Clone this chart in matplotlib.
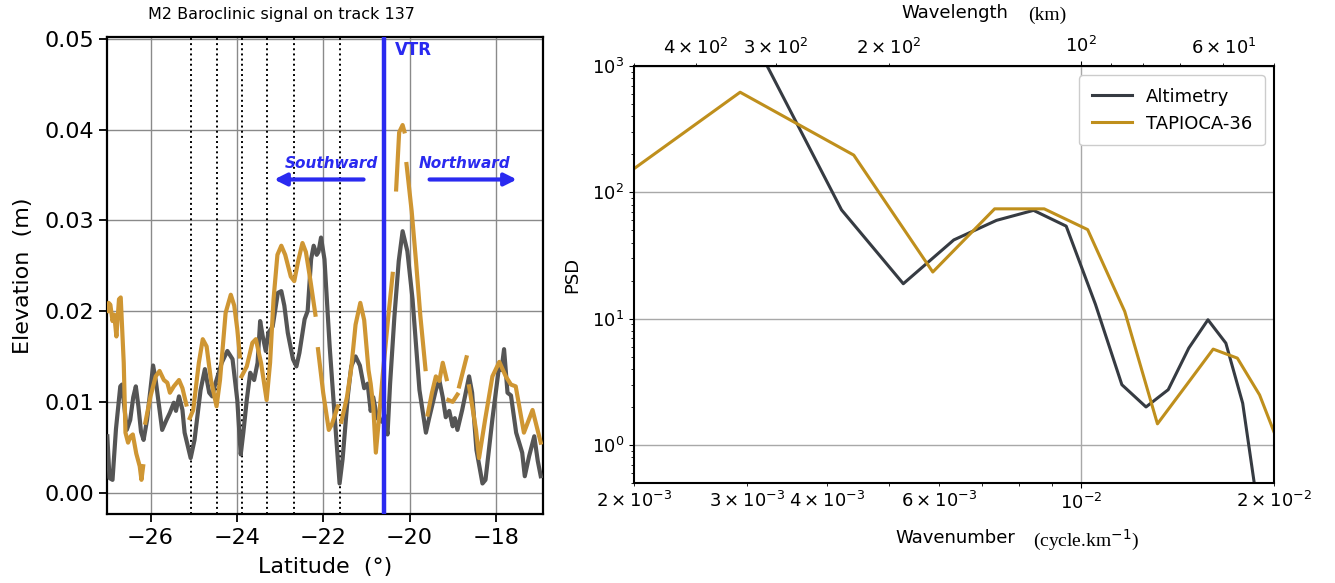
import matplotlib
matplotlib.use("Agg")
import matplotlib.pyplot as plt
import numpy as np

# ---- left panel: M2 baroclinic signal along track 137 ----
alti_lat = [-27.00, -26.95, -26.88, -26.80, -26.70, -26.66, -26.55, -26.47, -26.40, -26.34,
            -26.28, -26.22, -26.16, -26.08, -25.94, -25.88, -25.79, -25.73, -25.63, -25.55,
            -25.46, -25.41, -25.34, -25.26, -25.21, -25.07, -24.98, -24.84, -24.74, -24.64,
            -24.57, -24.51, -24.35, -24.22, -24.10, -23.99, -23.91, -23.85, -23.77, -23.69,
            -23.60, -23.52, -23.46, -23.40, -23.33, -23.27, -23.17, -23.05, -22.97, -22.90,
            -22.82, -22.70, -22.62, -22.55, -22.43, -22.36, -22.28, -22.22, -22.15, -22.11,
            -22.05, -21.97, -21.85, -21.74, -21.62, -21.55, -21.43, -21.35, -21.25, -21.15,
            -21.05, -20.97, -20.90, -20.84, -20.75, -20.64, -20.58, -20.51, -20.45, -20.35,
            -20.25, -20.16, -20.05, -19.93, -19.77, -19.62, -19.55, -19.39, -19.31, -19.23,
            -19.16, -19.08, -19.00, -18.95, -18.89, -18.78, -18.62, -18.55, -18.45, -18.31,
            -18.24, -18.08, -17.92, -17.87, -17.81, -17.73, -17.65, -17.53, -17.39, -17.33,
            -17.23, -17.11, -17.03, -16.96]
alti_elev = [0.0062, 0.0016, 0.0014, 0.0070, 0.0117, 0.0119, 0.0069, 0.0080, 0.0105, 0.0117,
             0.0095, 0.0067, 0.0058, 0.0080, 0.0140, 0.0124, 0.0091, 0.0069, 0.0080, 0.0088,
             0.0099, 0.0090, 0.0106, 0.0091, 0.0066, 0.0038, 0.0058, 0.0113, 0.0136, 0.0110,
             0.0106, 0.0118, 0.0143, 0.0156, 0.0147, 0.0102, 0.0042, 0.0066, 0.0102, 0.0132,
             0.0124, 0.0143, 0.0189, 0.0172, 0.0156, 0.0176, 0.0183, 0.0220, 0.0222, 0.0206,
             0.0176, 0.0147, 0.0139, 0.0154, 0.0191, 0.0200, 0.0257, 0.0272, 0.0262, 0.0265,
             0.0281, 0.0257, 0.0161, 0.0088, 0.0010, 0.0037, 0.0106, 0.0139, 0.0150, 0.0140,
             0.0115, 0.0120, 0.0090, 0.0105, 0.0082, 0.0078, 0.0085, 0.0064, 0.0120, 0.0194,
             0.0255, 0.0288, 0.0266, 0.0213, 0.0113, 0.0066, 0.0081, 0.0113, 0.0124, 0.0105,
             0.0083, 0.0090, 0.0073, 0.0082, 0.0069, 0.0091, 0.0128, 0.0110, 0.0047, 0.0010,
             0.0014, 0.0081, 0.0141, 0.0135, 0.0158, 0.0110, 0.0107, 0.0066, 0.0044, 0.0018,
             0.0040, 0.0062, 0.0035, 0.0018]

nan = np.nan
model_lat = [-27.00, -26.97, -26.93, -26.88, -26.84, -26.79, -26.73, -26.69, -26.62, -26.58,
             -26.52, -26.46, -26.41, -26.33, -26.25, -26.21, -26.17, nan,
             -26.12, -26.00, -25.88, -25.79, -25.69, -25.61, -25.55, -25.46, -25.34, -25.26,
             -25.17, nan,
             -25.09, -25.01, -24.88, -24.79, -24.70, -24.60, -24.47, -24.39, -24.26, -24.14,
             -24.06, -23.99, -23.93, nan,
             -23.89, -23.77, -23.64, -23.56, -23.44, -23.31, -23.23, -23.15, -23.06, -22.97,
             -22.88, -22.75, -22.67, -22.58, -22.48, -22.40, -22.30, -22.18, nan,
             -22.12, -22.00, -21.87, -21.80, -21.66, nan,
             -21.58, -21.45, -21.35, -21.25, -21.14, -21.05, -20.95, -20.90, -20.84, -20.78,
             -20.72, -20.62, -20.50, -20.39, nan,
             -20.31, -20.24, -20.16, -20.12, nan,
             -20.07, -19.95, -19.85, -19.75, -19.63, nan,
             -19.58, -19.48, -19.39, -19.31, -19.23, -19.14, nan,
             -19.10, -19.00, -18.89, nan,
             -18.85, -18.68, nan,
             -18.62, -18.46, -18.39, -18.25, -18.08, -17.92, -17.77, -17.65, -17.54, -17.35,
             -17.15, -16.96]
model_elev = [0.0200, 0.0209, 0.0207, 0.0189, 0.0196, 0.0172, 0.0213, 0.0215, 0.0143, 0.0066,
              0.0055, 0.0062, 0.0064, 0.0043, 0.0029, 0.0014, 0.0029, nan,
              0.0077, 0.0106, 0.0128, 0.0134, 0.0124, 0.0121, 0.0110, 0.0117, 0.0124, 0.0115,
              0.0097, nan,
              0.0082, 0.0091, 0.0143, 0.0169, 0.0161, 0.0124, 0.0095, 0.0124, 0.0198, 0.0218,
              0.0206, 0.0180, 0.0150, nan,
              0.0128, 0.0139, 0.0165, 0.0169, 0.0143, 0.0102, 0.0143, 0.0213, 0.0262, 0.0272,
              0.0262, 0.0238, 0.0233, 0.0255, 0.0275, 0.0265, 0.0235, 0.0196, nan,
              0.0158, 0.0110, 0.0069, 0.0075, 0.0095, nan,
              0.0078, 0.0105, 0.0137, 0.0185, 0.0209, 0.0190, 0.0135, 0.0120, 0.0095, 0.0044,
              0.0075, 0.0130, 0.0190, 0.0241, nan,
              0.0334, 0.0397, 0.0405, 0.0398, nan,
              0.0362, 0.0310, 0.0255, 0.0195, 0.0136, nan,
              0.0086, 0.0110, 0.0128, 0.0123, 0.0143, 0.0125, nan,
              0.0102, 0.0100, 0.0108, nan,
              0.0117, 0.0149, nan,
              0.0117, 0.0069, 0.0038, 0.0080, 0.0128, 0.0144, 0.0128, 0.0119, 0.0117, 0.0066,
              0.0091, 0.0055]

section_lat = [-25.07, -24.47, -23.88, -23.30, -22.68, -21.61]
vtr_lat = -20.58

# ---- right panel: spectra ----
alti_k = [0.00317, 0.00422, 0.00527, 0.00632, 0.00737, 0.00842, 0.00947, 0.01052, 0.01157,
          0.01262, 0.01367, 0.01472, 0.01577, 0.01682, 0.01787, 0.01892]
alti_psd = [1200, 72.6, 18.9, 42, 60, 72, 54, 13, 3.0, 2.0, 2.74, 5.85, 9.8, 6.4, 2.14, 0.29]
model_k = [0.00147, 0.00293, 0.00441, 0.00586, 0.00732, 0.00875, 0.01023, 0.01169, 0.01315,
           0.01461, 0.01607, 0.01753, 0.01899, 0.02045]
model_psd = [50, 620, 197, 23.4, 74, 74, 50.7, 11.4, 1.47, 3.0, 5.74, 4.87, 2.49, 0.95]

# tick positions / labels of the log axes
k_major = [0.01]
k_major_labels = ['$10^{-2}$']
k_minor = [0.002, 0.003, 0.004, 0.005, 0.006, 0.007, 0.008, 0.009, 0.02]
k_minor_labels = ['$2\\times10^{-3}$', '$3\\times10^{-3}$', '$4\\times10^{-3}$', '',
                  '$6\\times10^{-3}$', '', '', '', '$2\\times10^{-2}$']
wl_major = [100]
wl_major_labels = ['$10^{2}$']
wl_minor = [50, 60, 70, 80, 90, 200, 300, 400, 500]
wl_minor_labels = ['', '$6\\times10^{1}$', '', '', '', '$2\\times10^{2}$',
                   '$3\\times10^{2}$', '$4\\times10^{2}$', '']
psd_major = [1, 10, 100, 1000]
psd_major_labels = ['$10^{0}$', '$10^{1}$', '$10^{2}$', '$10^{3}$']
psd_minor = [0.5, 0.6, 0.7, 0.8, 0.9] + [m * d for d in (1, 10, 100) for m in range(2, 10)]

gray = '#555555'
gold = '#cf9633'
blue = '#2a2af0'

fig = plt.figure(figsize=(13.35, 5.83), dpi=100)

# left
ax = fig.add_axes([0.0804, 0.1178, 0.3266, 0.8187])
ax.grid(True, color='#8a8a8a', lw=1)
for lat in section_lat:
    ax.axvline(lat, color='black', ls=':', lw=1.4, zorder=3)
ax.plot(alti_lat, alti_elev, color=gray, lw=3, zorder=4)
ax.plot(model_lat, model_elev, color=gold, lw=3, zorder=5)
ax.axvline(vtr_lat, color=blue, lw=3.2, zorder=6)
ax.text(vtr_lat + 0.25, 0.0488, 'VTR', color=blue, fontsize=12, fontweight='bold',
        va='center', ha='left')
ax.annotate('', xy=(-23.2, 0.0345), xytext=(-21.0, 0.0345),
            arrowprops=dict(arrowstyle='-|>', color=blue, lw=3, mutation_scale=18))
ax.annotate('', xy=(-17.45, 0.0345), xytext=(-19.6, 0.0345),
            arrowprops=dict(arrowstyle='-|>', color=blue, lw=3, mutation_scale=18))
ax.text(-21.8, 0.0363, 'Southward', color=blue, fontsize=11, fontweight='bold',
        style='italic', ha='center', va='center')
ax.text(-18.73, 0.0363, 'Northward', color=blue, fontsize=11, fontweight='bold',
        style='italic', ha='center', va='center')
ax.set_xlim(-27.0, -16.9)
ax.set_ylim(-0.0024, 0.0502)
ax.set_xticks([-26, -24, -22, -20, -18])
ax.set_yticks([0.00, 0.01, 0.02, 0.03, 0.04, 0.05])
ax.set_yticklabels(['0.00', '0.01', '0.02', '0.03', '0.04', '0.05'])
ax.tick_params(labelsize=16, length=6, width=1.3)
for s in ax.spines.values():
    s.set_linewidth(1.6)
ax.set_xlabel('Latitude  (°)', fontsize=16, labelpad=7)
ax.set_ylabel('Elevation  (m)', fontsize=16, labelpad=8)
fig.text(281, 583 - 14, 'M2 Baroclinic signal on track 137', fontsize=11.5,
         ha='center', va='center', transform=None)

# right
ax2 = fig.add_axes([0.4749, 0.1715, 0.4794, 0.7153])
ax2.set_xscale('log')
ax2.set_yscale('log')
ax2.plot(alti_k, alti_psd, color='#363b42', lw=2.2, label='Altimetry')
ax2.plot(model_k, model_psd, color='#bf8f1c', lw=2.2, label='TAPIOCA-36')
ax2.set_xlim(0.002, 0.02)
ax2.set_ylim(0.5, 1000)
ax2.set_xticks(k_major, labels=k_major_labels)
ax2.set_xticks(k_minor, labels=k_minor_labels, minor=True)
ax2.set_yticks(psd_major, labels=psd_major_labels)
ax2.set_yticks(psd_minor, labels=[''] * len(psd_minor), minor=True)
ax2.grid(True, which='major', color='#a8a8a8', lw=1)
ax2.tick_params(which='both', labelsize=13)
for s in ax2.spines.values():
    s.set_linewidth(1.5)
ax2.set_ylabel('PSD', fontsize=13, labelpad=8)
ax2.legend(loc='upper right', fontsize=13, handlelength=2.2, borderpad=0.7,
           framealpha=1, edgecolor='#cccccc')


def inverse(x):
    x = np.array(x, dtype=float)
    with np.errstate(divide='ignore'):
        return 1.0 / x


top = ax2.secondary_xaxis('top', functions=(inverse, inverse))
top.set_xticks(wl_major, labels=wl_major_labels)
top.set_xticks(wl_minor, labels=wl_minor_labels, minor=True)
top.tick_params(which='both', labelsize=13)

fig.text(955, 583 - 13, 'Wavelength', fontsize=13, ha='center', va='center',
         transform=None)
fig.text(1028, 583 - 15, '(km)', fontsize=14, family='Liberation Serif',
         ha='left', va='center', transform=None)
fig.text(955, 583 - 538, 'Wavenumber', fontsize=13, ha='center', va='center',
         transform=None)
fig.text(1033, 583 - 540, '(cycle.km$^{-1}$)', fontsize=14, family='Liberation Serif',
         ha='left', va='center', transform=None)

fig.savefig('out.png', dpi=100)
